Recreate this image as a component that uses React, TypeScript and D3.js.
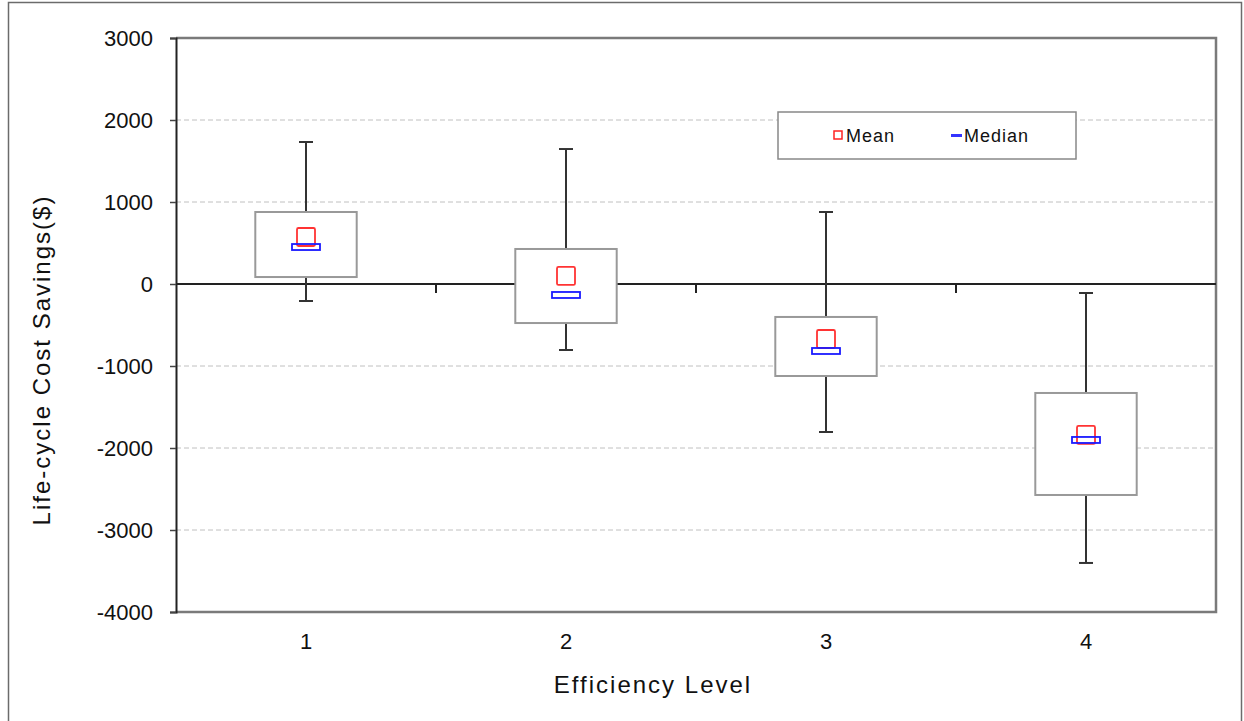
import React, { useEffect, useRef } from 'react';
import * as d3 from 'd3';

const levels = ['1', '2', '3', '4'];
const whiskerLow = [-207, -805, -1805, -3402];
const boxLow = [85, -476, -1122, -2573];
const medians = [451, -134, -817, -1902];
const means = [573, 98, -671, -1841];
const boxHigh = [878, 427, -402, -1329];
const whiskerHigh = [1732, 1646, 878, -110];
const yTicks = [3000, 2000, 1000, 0, -1000, -2000, -3000, -4000];

const W = 1244;
const H = 721;
const FONT = '"Liberation Sans", Arial, sans-serif';

const App = () => {
  const ref = useRef<SVGSVGElement | null>(null);

  useEffect(() => {
    if (!ref.current) return;
    const svg = d3.select(ref.current);
    svg.selectAll('*').remove();

    const left = 176;
    const right = 1216;
    const top = 38;
    const bottom = 612;

    const x = d3.scaleBand().domain(levels).range([left, right]);
    const y = d3.scaleLinear().domain([-4000, 3000]).range([bottom, top]);

    // outer frame
    svg
      .append('rect')
      .attr('x', 8.5)
      .attr('y', 2.5)
      .attr('width', 1233)
      .attr('height', 730)
      .attr('fill', 'white')
      .attr('stroke', '#6b6b6b')
      .attr('stroke-width', 1.5);

    // gridlines
    svg
      .append('g')
      .selectAll('line')
      .data(yTicks.filter((t) => t !== 0 && t !== -4000))
      .join('line')
      .attr('x1', left)
      .attr('x2', right)
      .attr('y1', (d) => y(d))
      .attr('y2', (d) => y(d))
      .attr('stroke', '#c0c0c0')
      .attr('stroke-width', 1)
      .attr('stroke-dasharray', '5,3');

    // plot border
    svg
      .append('path')
      .attr('d', `M${left},${top}H${right}V${bottom}H${left}`)
      .attr('fill', 'none')
      .attr('stroke', '#7a7a7a')
      .attr('stroke-width', 2.5);

    // y axis
    const yAxis = svg
      .append('g')
      .attr('transform', `translate(${left},0)`)
      .call(
        d3.axisLeft(y).tickValues(yTicks).tickSize(6).tickPadding(17).tickFormat((d) => String(d))
      );
    yAxis.select('.domain').attr('stroke', '#222').attr('stroke-width', 2);
    yAxis.selectAll('.tick line').attr('stroke', '#444').attr('stroke-width', 1.5);
    yAxis
      .selectAll('.tick text')
      .attr('font-family', FONT)
      .attr('font-size', 22)
      .attr('fill', '#111');

    // zero line + category ticks
    svg
      .append('line')
      .attr('x1', left)
      .attr('x2', right)
      .attr('y1', y(0))
      .attr('y2', y(0))
      .attr('stroke', '#222')
      .attr('stroke-width', 2);
    const bounds = levels.slice(1).map((l) => x(l) as number);
    svg
      .append('g')
      .selectAll('line')
      .data(bounds)
      .join('line')
      .attr('x1', (d) => d)
      .attr('x2', (d) => d)
      .attr('y1', y(0))
      .attr('y2', y(0) + 9)
      .attr('stroke', '#222')
      .attr('stroke-width', 2);

    // x labels
    svg
      .append('g')
      .selectAll('text')
      .data(levels)
      .join('text')
      .attr('x', (d) => (x(d) as number) + x.bandwidth() / 2)
      .attr('y', 649)
      .attr('text-anchor', 'middle')
      .attr('font-family', FONT)
      .attr('font-size', 22)
      .attr('fill', '#111')
      .text((d) => d);

    const boxW = x.bandwidth() * 0.39;
    const cx = (i: number) => (x(levels[i]) as number) + x.bandwidth() / 2;

    const g = svg.append('g');
    levels.forEach((_, i) => {
      const c = cx(i);
      // whiskers
      g.append('line')
        .attr('x1', c).attr('x2', c)
        .attr('y1', y(whiskerHigh[i])).attr('y2', y(boxHigh[i]))
        .attr('stroke', '#333').attr('stroke-width', 2);
      g.append('line')
        .attr('x1', c).attr('x2', c)
        .attr('y1', y(boxLow[i])).attr('y2', y(whiskerLow[i]))
        .attr('stroke', '#333').attr('stroke-width', 2);
      [whiskerHigh[i], whiskerLow[i]].forEach((v) => {
        g.append('line')
          .attr('x1', c - 7).attr('x2', c + 7)
          .attr('y1', y(v)).attr('y2', y(v))
          .attr('stroke', '#333').attr('stroke-width', 2);
      });
      // box
      g.append('rect')
        .attr('x', c - boxW / 2)
        .attr('y', y(boxHigh[i]))
        .attr('width', boxW)
        .attr('height', y(boxLow[i]) - y(boxHigh[i]))
        .attr('fill', 'white')
        .attr('stroke', '#999')
        .attr('stroke-width', 2);
      // mean
      g.append('rect')
        .attr('x', c - 9)
        .attr('y', y(means[i]) - 9)
        .attr('width', 18)
        .attr('height', 18)
        .attr('rx', 1.5)
        .attr('fill', 'none')
        .attr('stroke', '#ff3333')
        .attr('stroke-width', 1.8);
      // median
      g.append('rect')
        .attr('x', c - 14)
        .attr('y', y(medians[i]) - 3)
        .attr('width', 28)
        .attr('height', 6)
        .attr('fill', 'none')
        .attr('stroke', '#1a1aff')
        .attr('stroke-width', 1.8);
    });

    // legend
    const lg = svg.append('g');
    lg.append('rect')
      .attr('x', 778)
      .attr('y', 112)
      .attr('width', 298)
      .attr('height', 47)
      .attr('fill', 'white')
      .attr('stroke', '#888')
      .attr('stroke-width', 1.5);
    lg.append('rect')
      .attr('x', 834)
      .attr('y', 131)
      .attr('width', 8)
      .attr('height', 8)
      .attr('fill', 'white')
      .attr('stroke', '#ff2222')
      .attr('stroke-width', 1.5);
    lg.append('text')
      .attr('x', 846)
      .attr('y', 142)
      .attr('font-family', FONT)
      .attr('font-size', 18)
      .attr('letter-spacing', 1)
      .attr('fill', '#111')
      .text('Mean');
    lg.append('rect')
      .attr('x', 951)
      .attr('y', 134)
      .attr('width', 11)
      .attr('height', 3)
      .attr('fill', '#3333ff');
    lg.append('text')
      .attr('x', 964)
      .attr('y', 142)
      .attr('font-family', FONT)
      .attr('font-size', 18)
      .attr('letter-spacing', 1)
      .attr('fill', '#111')
      .text('Median');

    // axis titles
    svg
      .append('text')
      .attr('x', 653)
      .attr('y', 693)
      .attr('text-anchor', 'middle')
      .attr('font-family', FONT)
      .attr('font-size', 24)
      .attr('letter-spacing', 2)
      .attr('fill', '#111')
      .text('Efficiency Level');
    svg
      .append('text')
      .attr('transform', `translate(50,${(top + bottom) / 2 + 35}) rotate(-90)`)
      .attr('text-anchor', 'middle')
      .attr('font-family', FONT)
      .attr('font-size', 24)
      .attr('letter-spacing', 2)
      .attr('fill', '#111')
      .text('Life-cycle Cost Savings($)');
  }, []);

  return (
    <svg
      ref={ref}
      width={W}
      height={H}
      style={{ position: 'absolute', left: 0, top: 0, background: 'white' }}
    />
  );
};

export default App;
